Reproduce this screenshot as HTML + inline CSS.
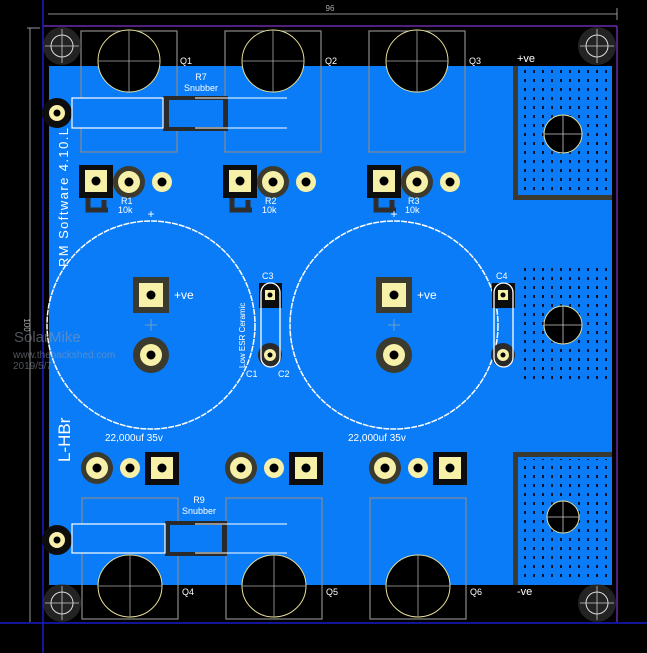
<!DOCTYPE html>
<html><head><meta charset="utf-8"><style>
html,body{margin:0;padding:0;background:#000;}
svg{display:block;font-family:"Liberation Sans",sans-serif;}
</style></head><body>
<svg width="647" height="653" viewBox="0 0 647 653" xmlns="http://www.w3.org/2000/svg">
<defs>
<pattern id="dots" x="524" y="70" width="9" height="9" patternUnits="userSpaceOnUse">
<rect x="0" y="0" width="2" height="3" fill="#0a1430"/>
</pattern>
<g id="hole">
<circle r="19" fill="#3a3a3a" opacity="0.6"/>
<circle r="11" fill="none" stroke="#ddd" stroke-width="1"/>
<line x1="-17" y1="0" x2="17" y2="0" stroke="#ccc" stroke-width="0.8"/>
<line x1="0" y1="-17" x2="0" y2="17" stroke="#ccc" stroke-width="0.8"/>
</g>
<g id="sq"><rect x="-17" y="-16" width="34" height="33" fill="#0d0d0d"/><rect x="-11" y="-11" width="22" height="22" fill="#f6f0a8"/><circle r="4.5" fill="#000"/></g>
<g id="rd"><circle r="16" fill="#3b3a2c"/><circle r="11" fill="#f6f0a8"/><circle r="4.5" fill="#000"/></g>
<g id="sm"><circle r="10" fill="#f6f0a8"/><circle r="4.5" fill="#000"/></g>
<g id="trans">
<rect x="-48" y="-30" width="96" height="121" fill="none" stroke="#8a8a8a" stroke-width="1.2"/>
<circle r="31" fill="#000" stroke="#e8e09a" stroke-width="1"/>
<line x1="-31" y1="0" x2="31" y2="0" stroke="#aaa" stroke-width="0.8"/>
<line x1="0" y1="-31" x2="0" y2="31" stroke="#aaa" stroke-width="0.8"/>
</g>
<g id="transb">
<rect x="-48" y="-88" width="96" height="121" fill="none" stroke="#8a8a8a" stroke-width="1.2"/>
<ellipse rx="32" ry="31" fill="#000" stroke="#e8e09a" stroke-width="1"/>
<line x1="-32" y1="0" x2="32" y2="0" stroke="#aaa" stroke-width="0.8"/>
<line x1="0" y1="-31" x2="0" y2="31" stroke="#aaa" stroke-width="0.8"/>
</g>
</defs>

<line x1="48" y1="14" x2="617" y2="14" stroke="#bbb" stroke-width="0.8"/>
<line x1="617" y1="8" x2="617" y2="20" stroke="#bbb" stroke-width="0.8"/>
<text x="330" y="11" font-size="8" fill="#aaa" text-anchor="middle">96</text>
<line x1="30" y1="28" x2="30" y2="622" stroke="#bbb" stroke-width="0.8"/>
<line x1="27" y1="28" x2="40" y2="28" stroke="#bbb" stroke-width="0.8"/>
<text x="24" y="325" font-size="8" fill="#aaa" transform="rotate(90 24 325)" text-anchor="middle">100</text>

<line x1="43" y1="26" x2="617" y2="26" stroke="#6a2aa8" stroke-width="1.5"/>
<line x1="617" y1="26" x2="617" y2="622" stroke="#6a2aa8" stroke-width="1.5"/>
<line x1="43" y1="0" x2="43" y2="653" stroke="#1a1ac8" stroke-width="1.5"/>
<line x1="0" y1="623" x2="647" y2="623" stroke="#1a1ac8" stroke-width="1.5"/>

<rect x="49" y="66" width="563" height="519" fill="#0a7cf8"/>
<circle cx="57" cy="113" r="15" fill="#0d0d0d"/><circle cx="57" cy="113" r="8" fill="#f6f0a8"/><circle cx="57" cy="113" r="3.5" fill="#000"/>
<circle cx="57" cy="540" r="15" fill="#0d0d0d"/><circle cx="57" cy="540" r="8" fill="#f6f0a8"/><circle cx="57" cy="540" r="3.5" fill="#000"/>

<path d="M513 66 H612 V200 H513 Z" fill="#3a3a30"/>
<rect x="518" y="66" width="94" height="129" fill="#0a7cf8"/>
<rect x="520" y="68" width="90" height="125" fill="url(#dots)"/>
<rect x="520" y="268" width="90" height="116" fill="url(#dots)"/>
<path d="M513 452 H612 V585 H513 Z" fill="#3a3a30"/>
<rect x="518" y="457" width="94" height="128" fill="#0a7cf8"/>
<rect x="520" y="459" width="90" height="124" fill="url(#dots)"/>
<g fill="#000" stroke="#e8e09a" stroke-width="1">
<circle cx="563" cy="134" r="19"/><circle cx="563" cy="325" r="19"/><circle cx="563" cy="517" r="16"/>
</g>
<g stroke="#ccc" stroke-width="0.8">
<line x1="544" y1="134" x2="582" y2="134"/><line x1="563" y1="115" x2="563" y2="153"/>
<line x1="544" y1="325" x2="582" y2="325"/><line x1="563" y1="306" x2="563" y2="344"/>
<line x1="547" y1="517" x2="579" y2="517"/><line x1="563" y1="501" x2="563" y2="533"/>
</g>
<text x="517" y="62" font-size="11" fill="#fff">+ve</text>
<text x="517" y="595" font-size="11" fill="#fff">-ve</text>

<use href="#trans" x="129" y="61"/><use href="#trans" x="273" y="61"/><use href="#trans" x="417" y="61"/>
<use href="#transb" x="130" y="586"/><use href="#transb" x="274" y="586"/><use href="#transb" x="418" y="586"/>
<g font-size="9" fill="#fff">
<text x="180" y="64">Q1</text><text x="325" y="64">Q2</text><text x="469" y="64">Q3</text>
<text x="182" y="595">Q4</text><text x="326" y="595">Q5</text><text x="470" y="595">Q6</text>
</g>

<g>
<rect x="163" y="96" width="65" height="35" fill="#2a2a2a"/><rect x="169" y="100" width="54" height="27" fill="#0a7cf8"/>
<rect x="72" y="98" width="91" height="30" fill="#0a7cf8" stroke="#fff" stroke-width="1.2"/>
<line x1="195" y1="98" x2="287" y2="98" stroke="#fff" stroke-width="1"/><line x1="195" y1="128" x2="287" y2="128" stroke="#fff" stroke-width="1"/>
<text x="201" y="80" font-size="9" fill="#fff" text-anchor="middle">R7</text>
<text x="201" y="91" font-size="9" fill="#fff" text-anchor="middle">Snubber</text>
</g>
<g>
<rect x="165" y="521" width="62" height="35" fill="#2a2a2a"/><rect x="170" y="525" width="52" height="27" fill="#0a7cf8"/>
<rect x="72" y="524" width="93" height="29" fill="#0a7cf8" stroke="#fff" stroke-width="1.2"/>
<line x1="195" y1="524" x2="287" y2="524" stroke="#fff" stroke-width="1"/><line x1="195" y1="553" x2="287" y2="553" stroke="#fff" stroke-width="1"/>
<text x="199" y="503" font-size="9" fill="#fff" text-anchor="middle">R9</text>
<text x="199" y="514" font-size="9" fill="#fff" text-anchor="middle">Snubber</text>
</g>

<g id="tg">
<path d="M88 195 V210 H108 M104 200 V210" stroke="#2e2e2e" stroke-width="5" fill="none"/>
<use href="#sq" x="96" y="181"/><use href="#rd" x="129" y="182"/><use href="#sm" x="162" y="182"/>
</g>
<use href="#tg" x="144"/><use href="#tg" x="288"/>
<g font-size="9" fill="#fff">
<text x="121" y="204">R1</text><text x="118" y="213">10k</text>
<text x="265" y="204">R2</text><text x="262" y="213">10k</text>
<text x="408" y="204">R3</text><text x="405" y="213">10k</text>
</g>
<g id="bg"><use href="#rd" x="97" y="468"/><use href="#sm" x="130" y="468"/><use href="#sq" x="162" y="468"/></g>
<use href="#bg" x="144"/><use href="#bg" x="288"/>

<g id="cap">
<circle cx="151" cy="325" r="104" fill="none" stroke="#fff" stroke-width="1.5" stroke-dasharray="6 1"/>
<text x="151" y="218" font-size="12" fill="#fff" text-anchor="middle">+</text>
<rect x="133" y="277" width="36" height="36" fill="#3a3a30"/><rect x="139" y="283" width="24" height="24" fill="#f6f0a8"/><circle cx="151" cy="295" r="4.5" fill="#000"/>
<circle cx="151" cy="355" r="18" fill="#3b3a2c"/><circle cx="151" cy="355" r="11" fill="#f6f0a8"/><circle cx="151" cy="355" r="4.5" fill="#000"/>
<path d="M145 325 H157 M151 319 V331" stroke="#8ab" stroke-width="0.8"/>
<text x="174" y="299" font-size="12" fill="#fff">+ve</text>
<text x="105" y="441" font-size="10" fill="#fff">22,000uf 35v</text>
</g>
<use href="#cap" x="243"/>

<g id="cc">
<rect x="259" y="283" width="23" height="25" fill="#0d0d0d"/>
<circle cx="270" cy="355" r="12" fill="#2a2a2a"/>
<rect x="261" y="283" width="19" height="84" rx="9.5" fill="none" stroke="#fff" stroke-width="1.3"/>
<rect x="265" y="290" width="10" height="10" fill="#f6f0a8"/><circle cx="270" cy="295" r="2.5" fill="#000"/>
<circle cx="270" cy="355" r="6" fill="#f6f0a8"/><circle cx="270" cy="355" r="2.5" fill="#000"/>
</g>
<use href="#cc" x="233"/>
<g font-size="9" fill="#fff">
<text x="262" y="279">C3</text><text x="496" y="279">C4</text>
<text x="246" y="377">C1</text><text x="278" y="377">C2</text>
</g>
<text x="245" y="368" font-size="8" fill="#fff" transform="rotate(-90 245 368)">Low ESR Ceramic</text>

<text x="68" y="267" font-size="13" fill="#fff" textLength="139" lengthAdjust="spacing" transform="rotate(-90 68 267)">RM Software 4.10.L</text>
<text x="70" y="462" font-size="17" fill="#fff" transform="rotate(-90 70 462)">L-HBr</text>

<use href="#hole" x="62" y="46"/><use href="#hole" x="597" y="46"/>
<use href="#hole" x="62" y="603"/><use href="#hole" x="597" y="603"/>

<g fill="#8f9aa8" opacity="0.55">
<text x="14" y="342" font-size="15">SolarMike</text>
<text x="13" y="358" font-size="10">www.thebackshed.com</text>
<text x="13" y="369" font-size="10">2019/5/7</text>
</g>
</svg>
</body></html>
